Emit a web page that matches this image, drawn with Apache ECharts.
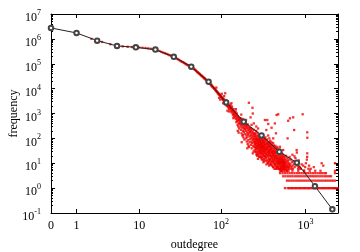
<!DOCTYPE html>
<html>
<head>
<meta charset="utf-8">
<script src="https://cdn.jsdelivr.net/npm/echarts@6/dist/echarts.min.js"></script>
<style>
  html, body { margin: 0; padding: 0; background: #fff; }
  #chart { width: 360px; height: 252px; }
</style>
</head>
<body>
<div id="chart"></div>
<script>
// log-binned curve (black line with open circles)
const binDegree = [0, 1, 2.5, 5, 9, 16, 27, 44, 71, 115, 186, 302, 490, 790, 1290, 2070]
const binFreq = [2.75e6, 1.73e6, 8.5e5, 5.2e5, 4.6e5, 3.7e5, 1.9e5, 7.6e4, 1.9e4, 2.8e3, 470, 132, 29, 10.5, 1.2, 0.14]

// raw counts for low degrees, one value per degree 2..110
const headDegree = [
  2, 3, 4, 5, 6, 7, 8, 9, 10, 11, 12, 13, 14, 15, 16, 17, 18, 19, 20, 21,
  22, 23, 24, 25, 26, 27, 28, 29, 30, 31, 32, 33, 34, 35, 36, 37, 38, 39, 40, 41,
  42, 43, 44, 45, 46, 47, 48, 49, 50, 51, 52, 53, 54, 55, 56, 57, 58, 59, 60, 61,
  62, 63, 64, 65, 66, 67, 68, 69, 70, 71, 72, 73, 74, 75, 76, 77, 78, 79, 80, 81,
  82, 83, 84, 85, 86, 87, 88, 89, 90, 91, 92, 93, 94, 95, 96, 97, 98, 99, 100, 101,
  102, 103, 104, 105, 106, 107, 108, 109, 110
]
const headFreq = [
  1.0e6, 7.5e5, 6.1e5, 5.4e5, 5.0e5, 4.8e5, 4.7e5, 4.6e5, 4.5e5, 4.4e5, 4.3e5, 4.15e5, 4.0e5, 3.85e5, 3.7e5, 3.45e5, 3.25e5, 3.0e5, 2.8e5, 2.65e5,
  2.5e5, 2.35e5, 2.2e5, 2.1e5, 2.0e5, 1.9e5, 1.75e5, 1.65e5, 1.55e5, 1.45e5, 1.35e5, 1.27e5, 1.2e5, 1.15e5, 1.08e5, 1.02e5, 9.6e4, 9.2e4, 8.8e4, 8.4e4,
  8.1e4, 7.8e4, 7.5e4, 7.1e4, 6.8e4, 6.4e4, 6.0e4, 5.7e4, 5.3e4, 5.0e4, 4.6e4, 4.5e4, 4.2e4, 4.0e4, 3.8e4, 3.5e4, 3.4e4, 3.2e4, 3.1e4, 2.9e4,
  2.8e4, 2.6e4, 2.55e4, 2.4e4, 2.25e4, 2.2e4, 2.1e4, 2.0e4, 1.9e4, 1.85e4, 1.7e4, 1.65e4, 1.55e4, 1.5e4, 1.35e4, 1.4e4, 1.25e4, 1.2e4, 1.15e4, 1.1e4,
  1.05e4, 1.0e4, 9.8e3, 9.2e3, 8.6e3, 8.4e3, 7.9e3, 7.6e3, 7.2e3, 7.0e3, 6.4e3, 6.5e3, 5.9e3, 6.0e3, 5.4e3, 5.6e3, 4.9e3, 5.1e3, 4.6e3, 4.8e3,
  4.1e3, 4.4e3, 3.8e3, 4.0e3, 3.5e3, 3.9e3, 3.2e3, 3.6e3, 3.0e3
]

// scattered counts, [degree, frequency]
const cloudPoints = [
  [88, 1.1e4], [95, 4.2e3], [98, 3.6e3], [102, 6.2e3], [106, 2.6e3], [109, 5.0e3],
  [111, 3200], [112, 2600], [112, 6500], [113, 2900], [114, 2300], [115, 3400], [116, 2700], [117, 2000], [118, 2500],
  [119, 2200], [119, 1300], [120, 2900], [121, 1900], [122, 2300], [123, 1700], [124, 2100], [124, 1200], [125, 1500], [126, 2000], [127, 1800],
  [128, 1900], [129, 1500], [130, 2300], [131, 1300], [132, 1700], [133, 1100], [133, 2600], [134, 1600], [135, 1900], [136, 1200],
  [137, 1400], [138, 900], [139, 1300], [140, 1000], [140, 650], [141, 1500], [142, 800], [143, 1200], [144, 1000], [145, 700], [146, 1100],
  [147, 1000], [148, 800], [149, 1200], [150, 600], [150, 1500], [151, 900], [152, 450], [153, 750], [154, 1000], [155, 500], [156, 650],
  [157, 350], [158, 800], [158, 200], [159, 550], [160, 300], [161, 700], [162, 420], [162, 170], [163, 600], [164, 250], [165, 500], [166, 380], [167, 650],
  [168, 550], [169, 400], [170, 300], [171, 650], [172, 220], [173, 480], [174, 350], [174, 900], [175, 160], [176, 520], [176, 70], [177, 270],
  [178, 420], [179, 130], [180, 330], [181, 600], [182, 200], [183, 380], [183, 140], [184, 110], [185, 260], [186, 450], [187, 180], [188, 300],
  [189, 90], [190, 230], [191, 400],
  [192, 350], [193, 240], [194, 150], [195, 420], [196, 300], [197, 100], [198, 200], [198, 550], [199, 380], [200, 130], [201, 270], [202, 75],
  [203, 320], [204, 170], [205, 110], [205, 40], [206, 250], [207, 60], [208, 360], [209, 140], [210, 210], [211, 85], [212, 290], [212, 50],
  [213, 160], [214, 2700], [215, 45], [216, 230], [217, 120], [218, 70], [219, 190], [220, 260],
  [221, 180], [222, 95], [223, 260], [224, 700], [225, 140], [226, 55], [227, 210], [228, 120], [229, 75], [230, 160], [230, 350], [231, 40],
  [232, 240], [233, 100], [234, 65], [235, 190], [236, 1700], [237, 130], [238, 1000], [238, 25], [239, 85], [240, 50], [241, 170], [242, 110],
  [243, 30], [244, 150], [245, 70], [245, 400], [246, 220], [247, 95], [248, 45], [249, 130], [250, 80], [251, 60], [252, 160],
  [253, 120], [254, 70], [255, 150], [256, 45], [257, 95], [258, 30], [259, 110], [260, 60], [261, 200], [262, 38], [262, 300], [263, 85],
  [264, 130], [265, 50], [266, 25], [267, 100], [268, 70], [268, 20], [269, 170], [270, 40], [271, 90], [272, 22], [273, 60], [274, 120],
  [275, 35], [275, 250], [276, 80], [277, 55], [278, 140], [279, 28], [280, 65], [281, 100], [282, 45], [283, 18], [284, 75], [285, 110],
  [286, 32], [287, 55], [288, 90], [289, 40],
  [290, 80], [291, 35], [292, 120], [293, 50], [294, 20], [295, 70], [296, 95], [297, 28], [298, 60], [299, 42], [300, 150], [301, 16],
  [302, 85], [303, 38], [304, 55], [305, 25], [306, 110], [307, 45], [308, 70], [309, 18], [310, 32], [311, 90], [312, 60], [313, 22],
  [314, 40], [315, 130], [316, 14], [317, 75], [318, 50], [319, 30], [320, 100], [321, 24], [322, 65], [323, 45], [324, 12], [325, 80],
  [326, 35], [327, 55], [328, 20], [329, 95], [330, 28], [331, 548],
  [332, 45], [334, 70], [335, 20], [336, 110], [338, 30], [339, 55], [340, 16], [341, 85], [343, 40], [344, 217], [345, 25], [346, 60],
  [348, 12], [349, 90], [350, 35], [351, 50], [353, 548], [354, 22], [355, 75], [357, 40], [358, 10], [359, 60], [360, 28], [362, 130],
  [363, 378], [364, 18], [365, 45], [367, 70], [368, 32], [369, 15], [370, 55], [372, 25], [373, 100], [374, 40], [375, 12], [376, 65],
  [377, 20], [378, 35], [379, 9],
  [380, 50], [382, 22], [383, 80], [385, 14], [386, 35], [388, 60], [389, 9], [391, 28], [392, 45], [394, 18], [395, 70], [397, 268],
  [398, 12], [399, 40], [401, 25], [402, 55], [404, 8], [405, 32], [406, 20], [408, 48], [409, 15], [411, 30], [412, 11], [414, 65],
  [415, 100], [416, 22], [418, 38], [419, 7], [421, 18], [422, 52], [424, 26], [425, 13], [427, 42], [428, 9], [430, 20], [431, 34],
  [433, 16], [434, 400], [435, 28],
  [436, 30], [438, 12], [440, 50], [441, 8], [443, 22], [445, 17], [447, 160], [448, 40], [450, 10], [452, 26], [453, 7], [455, 870],
  [456, 35], [458, 14], [460, 20], [461, 6], [463, 45], [465, 11], [466, 28], [468, 16], [470, 9], [471, 38], [473, 13], [474, 24],
  [476, 930], [477, 7], [479, 19], [481, 32], [482, 10], [484, 15], [486, 6], [487, 27], [489, 12], [490, 21], [492, 8], [494, 17],
  [495, 36], [497, 11], [498, 46], [499, 5],
  [500, 25], [502, 9], [503, 14], [505, 6], [507, 18], [508, 30], [510, 11], [512, 7], [513, 22], [515, 5], [517, 13], [518, 8],
  [520, 16], [522, 26], [523, 6], [525, 10], [527, 19], [529, 12], [530, 5], [532, 8], [534, 15], [536, 23], [537, 7], [539, 11],
  [541, 9], [543, 17], [545, 34], [546, 6], [548, 13], [550, 8], [552, 20], [554, 10], [556, 5], [558, 14], [560, 7], [562, 11],
  [565, 18], [567, 6], [569, 9], [571, 12],
  [573, 7], [576, 15], [579, 9], [582, 5], [585, 11], [588, 20], [591, 6], [594, 8], [597, 13], [600, 7], [603, 10], [606, 5],
  [609, 16], [612, 8], [614, 100], [617, 6], [620, 12], [624, 510], [627, 9], [630, 5], [633, 14], [636, 7], [640, 10], [644, 6],
  [648, 18], [651, 8], [654, 640],
  [660, 9], [670, 14], [680, 7], [690, 11], [700, 8], [700, 22], [710, 6], [715, 700], [720, 12], [730, 9], [734, 217], [740, 19],
  [745, 7], [760, 16], [775, 10], [785, 34], [790, 27], [800, 8], [815, 6], [830, 13], [845, 7],
  [870, 6], [900, 9], [924, 930], [939, 8], [960, 5], [990, 7], [1010, 10], [1036, 14], [1045, 18], [1047, 25], [1047, 175],
  [1050, 106], [1080, 6], [1100, 8], [1549, 10], [1618, 8], [2223, 10], [2223, 5]
]

// more counts inside the dense part of the cloud, [degree, frequency]
const densePoints = [
  [251, 35], [253, 55], [256, 28], [258, 75], [260, 40], [263, 22], [265, 90], [267, 48], [270, 30], [272, 65], [274, 15], [277, 42],
  [279, 85], [281, 24], [283, 50], [285, 19], [287, 70], [289, 26], [292, 58], [294, 33], [296, 17], [298, 44], [300, 24], [303, 66],
  [305, 14], [307, 30], [309, 50], [312, 19], [314, 80], [316, 36], [318, 11], [320, 45], [323, 27], [325, 15], [327, 38], [329, 60],
  [332, 18], [335, 33], [337, 13], [340, 42], [342, 24], [345, 9], [347, 36], [350, 19], [352, 65], [355, 14], [357, 28], [360, 10],
  [362, 47], [365, 22], [367, 12], [370, 33], [372, 8], [375, 26], [378, 50], [381, 15], [384, 30], [387, 11], [390, 20], [393, 38],
  [396, 9], [400, 16], [403, 27], [407, 12], [410, 22], [413, 7], [417, 30], [420, 14], [423, 10], [426, 19], [429, 6], [432, 25],
  [437, 9], [442, 15], [446, 6], [451, 19], [454, 12], [459, 8], [464, 16], [469, 7], [472, 12], [478, 10], [483, 6], [488, 14],
  [493, 9], [496, 6], [504, 11], [509, 15], [514, 7], [519, 10], [524, 14], [528, 6], [533, 11], [538, 8], [544, 12], [549, 6],
  [555, 9], [561, 6], [566, 8], [570, 7]
]

// degrees whose count is exactly 1, 2, 3, ... (the flat rows at the tail)
const rowOne = [571, 615, 640, 665, 690, 715, 745, 770, 800, 830, 860, 890, 925, 957, 990,
  1025, 1062, 1100, 1140, 1180, 1223, 1265, 1310, 1355, 1400, 1450, 1500, 1550, 1605, 1660, 1715,
  1775, 1838, 1900, 1965, 2030, 2100, 2170, 2240, 2315, 2395]
const rowTwo = [603, 640, 680, 720, 765, 810, 858, 910, 965, 1020, 1080, 1145, 1210, 1280, 1355,
  1430, 1510, 1595, 1690, 1785, 1890, 2000, 2110, 2223]
const rowThree = [545, 580, 620, 660, 700, 745, 790, 840, 890, 945, 1000, 1060, 1125, 1190, 1260,
  1335, 1415, 1500, 1590, 1690, 1790, 1900, 2000]
const rowFour = [500, 535, 570, 610, 650, 695, 740, 790, 840, 895, 950, 1010, 1075, 1145, 1220,
  1300, 1385, 1475, 1570, 1670, 1740, 2223]
const rowFive = [520, 600, 700, 820, 960, 1120, 1300, 1500]
const rowSix = [560, 680, 880, 1150]
const rowSeven = [620, 830, 1250]

const xTickDegrees = [0, 1, 10, 100, 1000]
const yTickExponents = [-1, 0, 1, 2, 3, 4, 5, 6, 7]

const serif = "'Liberation Serif', 'DejaVu Serif', serif"
const xMax = 2415

// the x axis is log(1 + outdegree), so shift every degree by one
const shift = d => d + 1
const redData = []
headDegree.forEach((d, i) => redData.push([shift(d), headFreq[i]]))
cloudPoints.concat(densePoints).forEach(p => redData.push([shift(p[0]), p[1]]))
const rows = [rowOne, rowTwo, rowThree, rowFour, rowFive, rowSix, rowSeven]
rows.forEach((row, i) => row.forEach(d => redData.push([shift(d), i + 1])))
const binData = binDegree.map((d, i) => [shift(d), binFreq[i]])

const xTickValues = xTickDegrees.map(shift)
const yTickValues = yTickExponents.map(e => Math.pow(10, e))
const yMinorValues = []
yTickExponents.slice(0, -1).forEach(e => {
  for (let k = 2; k <= 9; k++) yMinorValues.push(k * Math.pow(10, e))
})

// superscript via rich text: base "10" and a raised exponent
const xRich = {
  b: { fontFamily: serif, fontSize: 12, color: '#000', lineHeight: 18 },
  s: { fontFamily: serif, fontSize: 8, color: '#000', lineHeight: 18, padding: [0, 0, 8, 0] }
}
const yRich = {
  b: { fontFamily: serif, fontSize: 12, color: '#000', lineHeight: 18, padding: [8, 0, 0, 0] },
  s: { fontFamily: serif, fontSize: 8, color: '#000', lineHeight: 18, padding: [0, 0, 2, 0] }
}

const boxLine = { show: true, lineStyle: { color: '#000', width: 1 } }

function xAxisBase(position) {
  return {
    type: 'log', position: position, min: 1, max: xMax,
    axisLine: boxLine,
    splitLine: { show: false },
    minorTick: { show: false },
    axisTick: { show: true, inside: true, length: 4, customValues: xTickValues, lineStyle: { color: '#000' } },
    axisLabel: { show: false }
  }
}

function yAxisBase(position, minor) {
  return {
    type: 'log', logBase: 10, position: position, min: 0.1, max: 1e7,
    axisLine: minor ? { show: false } : boxLine,
    splitLine: { show: false },
    minorTick: { show: false },
    axisTick: { show: true, inside: true, length: minor ? 2 : 4, customValues: minor ? yMinorValues : yTickValues, lineStyle: { color: '#000' } },
    axisLabel: { show: false }
  }
}

const bottomAxis = xAxisBase('bottom')
bottomAxis.axisLabel = {
  show: true, margin: 4, customValues: xTickValues, rich: xRich,
  formatter: v => {
    const d = Math.round(v - 1)
    if (d < 100) return '{b|' + d + '}'
    return '{b|10}{s|' + Math.round(Math.log10(d)) + '}'
  }
}
bottomAxis.name = 'outdegree'
bottomAxis.nameLocation = 'middle'
bottomAxis.nameGap = 26
bottomAxis.nameMoveOverlap = false
bottomAxis.nameTextStyle = { fontFamily: serif, fontSize: 12, color: '#000' }

const leftAxis = yAxisBase('left', false)
leftAxis.axisLabel = {
  show: true, margin: 10, customValues: yTickValues, rich: yRich,
  formatter: v => '{b|10}{s|' + Math.round(Math.log10(v)) + '}'
}
leftAxis.name = 'frequency'
leftAxis.nameLocation = 'middle'
leftAxis.nameGap = 31
leftAxis.nameMoveOverlap = false
leftAxis.nameTextStyle = { fontFamily: serif, fontSize: 12, color: '#000' }

const chart = echarts.init(document.getElementById('chart'), null, { renderer: 'canvas' })
chart.setOption({
  animation: false,
  backgroundColor: '#fff',
  grid: { left: 51, right: 22, top: 14, bottom: 39, containLabel: false, outerBoundsMode: 'none' },
  xAxis: [bottomAxis, xAxisBase('top')],
  yAxis: [leftAxis, yAxisBase('right', false), yAxisBase('left', true), yAxisBase('right', true)],
  series: [
    {
      name: 'raw',
      type: 'scatter',
      symbol: 'rect',
      symbolSize: 2.3,
      itemStyle: { color: '#f00000' },
      data: redData,
      z: 2
    },
    {
      name: 'binned',
      type: 'line',
      symbol: 'emptyCircle',
      symbolSize: 4.5,
      showAllSymbol: true,
      clip: false,
      lineStyle: { color: '#222', width: 1 },
      itemStyle: { color: '#444', borderWidth: 0.7 },
      data: binData,
      z: 3
    }
  ]
})
</script>
</body>
</html>
